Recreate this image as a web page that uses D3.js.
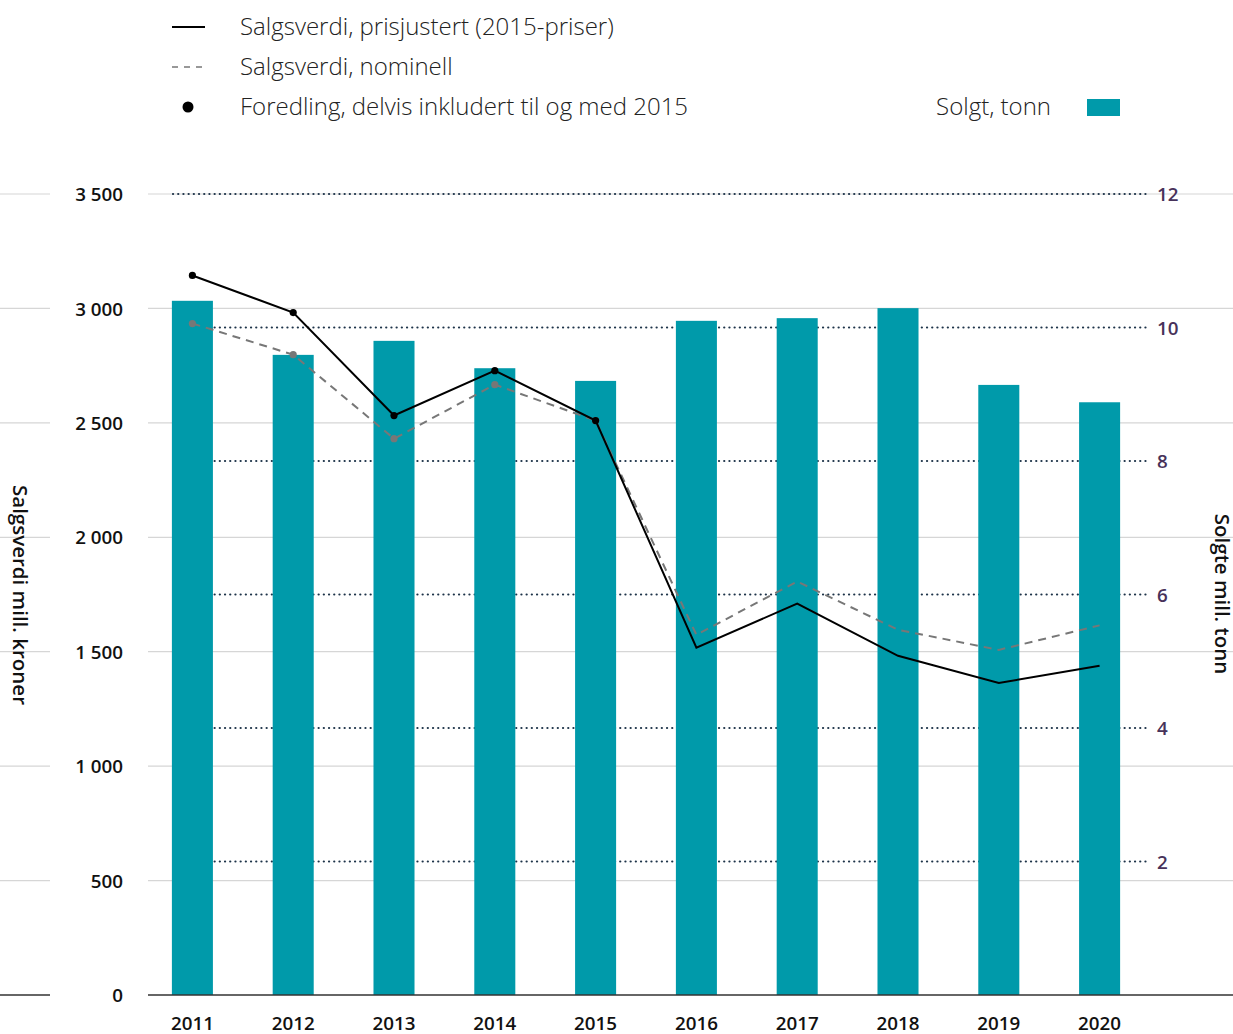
<!DOCTYPE html>
<html><head><meta charset="utf-8">
<script src="https://cdn.jsdelivr.net/npm/d3@7"></script>
<style>
html,body{margin:0;padding:0;background:#fff;}
svg{display:block;font-family:"Open Sans",sans-serif;}
</style></head>
<body>
<svg id="chart" width="1233" height="1034"></svg>
<script>
const years = ["2011","2012","2013","2014","2015","2016","2017","2018","2019","2020"];
const soldTonnes = [10.40, 9.59, 9.80, 9.39, 9.20, 10.10, 10.14, 10.29, 9.14, 8.88];
const valueReal = [3144, 2982, 2532, 2728, 2510, 1518, 1710, 1482, 1363, 1439];
const valueNominal = [2934, 2798, 2431, 2667, 2510, 1574, 1807, 1596, 1508, 1615];
const processingYears = ["2011","2012","2013","2014","2015"];
const leftTicks = [0, 500, 1000, 1500, 2000, 2500, 3000, 3500];
const rightTicks = [2, 4, 6, 8, 10, 12];
const legendLabels = ["Salgsverdi, prisjustert (2015-priser)", "Salgsverdi, nominell", "Foredling, delvis inkludert til og med 2015", "Solgt, tonn"];
const axisTitles = ["Salgsverdi mill. kroner", "Solgte mill. tonn"];

const svg = d3.select("#chart");
const W = 1233;
const yTop = 194, yBot = 995;
const x = d3.scaleBand().domain(years).range([142, 1150]).paddingInner(0.593).paddingOuter(0.2965);
const yL = d3.scaleLinear().domain([0, 3500]).range([yBot, yTop]);
const yR = d3.scaleLinear().domain([0, 12]).range([yBot, yTop]);
const fmtL = d => d >= 1000 ? String(d).replace(/(\d)(\d{3})$/, "$1 $2") : String(d);
const TICK = 18.8;

// light gridlines (left axis)
const grid = svg.append("g");
leftTicks.filter(d => d > 0).forEach(t => {
  grid.append("line").attr("x1", 0).attr("x2", 50).attr("y1", yL(t)).attr("y2", yL(t)).attr("stroke", "#d6d6d6").attr("stroke-width", 1.2);
  grid.append("line").attr("x1", 148).attr("x2", W).attr("y1", yL(t)).attr("y2", yL(t)).attr("stroke", "#d6d6d6").attr("stroke-width", 1.2);
});

// left axis
const lAxis = svg.append("g").attr("transform", "translate(123,0)")
  .call(d3.axisLeft(yL).tickValues(leftTicks).tickSize(0).tickPadding(0).tickFormat(fmtL));
lAxis.select(".domain").remove();
lAxis.selectAll("text").attr("font-family", "'Open Sans',sans-serif").attr("font-size", TICK).attr("font-weight", 600).attr("fill", "#111").attr("dy", "0.35em");

// dotted lines (right axis)
const dots = svg.append("g");
rightTicks.forEach(t => {
  dots.append("line").attr("x1", 173).attr("x2", 1150).attr("y1", yR(t)).attr("y2", yR(t))
    .attr("stroke", "#1d3349").attr("stroke-width", 2.2).attr("stroke-linecap", "round").attr("stroke-dasharray", "0.1,5.1");
});

const rAxis = svg.append("g").attr("transform", "translate(1157,0)")
  .call(d3.axisRight(yR).tickValues(rightTicks).tickSize(0).tickPadding(0));
rAxis.select(".domain").remove();
rAxis.selectAll("text").attr("font-family", "'Open Sans',sans-serif").attr("font-size", TICK).attr("font-weight", 600).attr("fill", "#47325a").attr("dy", "0.35em");

// bars
svg.append("g").selectAll("rect").data(years).join("rect")
  .attr("x", d => x(d)).attr("width", x.bandwidth())
  .attr("y", (d, i) => yR(soldTonnes[i])).attr("height", (d, i) => yBot - yR(soldTonnes[i]))
  .attr("fill", "#009aaa");

// zero line
svg.append("line").attr("x1", 0).attr("x2", 50).attr("y1", yBot).attr("y2", yBot).attr("stroke", "#333").attr("stroke-width", 1.3);
svg.append("line").attr("x1", 148).attr("x2", W).attr("y1", yBot).attr("y2", yBot).attr("stroke", "#333").attr("stroke-width", 1.3);

// x axis labels
const xAxis = svg.append("g").attr("transform", `translate(0,${yBot})`)
  .call(d3.axisBottom(x).tickSize(0).tickPadding(0));
xAxis.select(".domain").remove();
xAxis.selectAll("text").attr("font-family", "'Open Sans',sans-serif").attr("font-size", TICK).attr("font-weight", 600).attr("fill", "#111").attr("dy", "0").attr("y", 35);

const cx = d => x(d) + x.bandwidth() / 2;
// nominal dashed line
svg.append("path").datum(valueNominal)
  .attr("d", d3.line().x((d, i) => cx(years[i])).y(d => yL(d)))
  .attr("fill", "none").attr("stroke", "#777").attr("stroke-width", 2).attr("stroke-dasharray", "8,6");
svg.append("g").selectAll("circle").data(processingYears).join("circle")
  .attr("cx", d => cx(d)).attr("cy", d => yL(valueNominal[years.indexOf(d)])).attr("r", 3.6).attr("fill", "#777");
// real line
svg.append("path").datum(valueReal)
  .attr("d", d3.line().x((d, i) => cx(years[i])).y(d => yL(d)))
  .attr("fill", "none").attr("stroke", "#000").attr("stroke-width", 2);
svg.append("g").selectAll("circle").data(processingYears).join("circle")
  .attr("cx", d => cx(d)).attr("cy", d => yL(valueReal[years.indexOf(d)])).attr("r", 3.6).attr("fill", "#000");

// axis titles
svg.append("text").attr("transform", "translate(13,595) rotate(90)").attr("text-anchor", "middle")
  .attr("font-size", 20.5).attr("font-weight", 600).attr("fill", "#111").text(axisTitles[0]);
svg.append("text").attr("transform", "translate(1215,594) rotate(90)").attr("text-anchor", "middle")
  .attr("font-size", 20.5).attr("font-weight", 600).attr("fill", "#111").text(axisTitles[1]);

// legend
const lg = svg.append("g");
lg.append("line").attr("x1", 172).attr("x2", 205).attr("y1", 27).attr("y2", 27).attr("stroke", "#000").attr("stroke-width", 2);
lg.append("line").attr("x1", 172).attr("x2", 207).attr("y1", 67).attr("y2", 67).attr("stroke", "#777").attr("stroke-width", 1.6).attr("stroke-dasharray", "6,6");
lg.append("circle").attr("cx", 188).attr("cy", 107).attr("r", 5.5).attr("fill", "#000");
[27, 67, 107].forEach((yy, i) => {
  lg.append("text").attr("x", 240).attr("y", yy).attr("dy", "0.35em").attr("font-size", 24).attr("font-weight", 300).attr("fill", "#222").text(legendLabels[i]);
});
lg.append("text").attr("x", 1051).attr("y", 107).attr("dy", "0.35em").attr("text-anchor", "end").attr("font-size", 24).attr("font-weight", 300).attr("fill", "#222").text(legendLabels[3]);
lg.append("rect").attr("x", 1087).attr("y", 99).attr("width", 33).attr("height", 17).attr("fill", "#009aaa");
</script>
</body></html>
